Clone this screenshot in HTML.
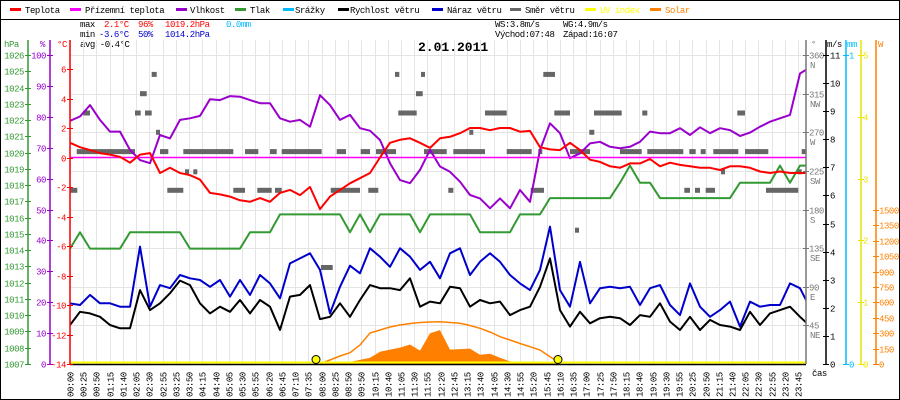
<!DOCTYPE html>
<html><head><meta charset="utf-8"><style>
html,body{margin:0;padding:0;background:#fff}
svg{display:block;font-family:"Liberation Mono",monospace}
</style></head><body>
<svg id="c" width="900" height="400" viewBox="0 0 900 400">
<rect x="0.5" y="0.5" width="899" height="399" fill="#fff" stroke="#000"/>
<line x1="0" y1="19.5" x2="900" y2="19.5" stroke="#000"/>
<g id="legend" font-size="9" letter-spacing="-0.45"></g>
<g font-size="9" letter-spacing="-0.45">
<text x="80" y="27">max</text>
<text x="104" y="27" fill="#f00">2.1°C</text>
<text x="138" y="27" fill="#f00">96%</text>
<text x="165" y="27" fill="#f00">1019.2hPa</text>
<text x="226" y="27" fill="#00bbff">0.0mm</text>
<text x="80" y="37">min</text>
<text x="99" y="37" fill="#0000cc">-3.6°C</text>
<text x="138" y="37" fill="#0000cc">50%</text>
<text x="165" y="37" fill="#0000cc">1014.2hPa</text>
<text x="80" y="47">avg -0.4°C</text>
<text x="495" y="27">WS:3.8m/s</text>
<text x="563" y="27">WG:4.9m/s</text>
<text x="495" y="37">Východ:07:48</text>
<text x="563" y="37">Západ:16:07</text>
</g>
<g id="grid"></g>
<text x="418" y="51" font-size="13" font-weight="bold">2.01.2011</text>
<defs><clipPath id="pc"><rect x="70" y="40" width="736" height="324"/></clipPath></defs>
<g id="plot" clip-path="url(#pc)"></g>
<g id="axes" font-size="9" letter-spacing="-0.45"></g>
</svg>
<script>
const temp=[1.0,0.7,0.5,0.3,0.2,0.05,-0.35,0.2,0.3,-1.05,-0.7,-1.05,-1.2,-1.5,-2.4,-2.5,-2.65,-2.9,-3.0,-2.75,-3.0,-2.4,-2.2,-2.55,-2.0,-3.5,-2.65,-2.2,-1.75,-1.4,-1.05,0,1.0,1.2,1.3,1.0,0.65,1.3,1.4,1.65,2.0,2.0,1.85,2.0,2.0,1.75,1.8,0.7,0.55,0.5,1.0,0.5,-0.15,-0.3,-0.6,-0.7,-0.4,-0.4,-0.1,-0.6,-0.35,-0.5,-0.6,-0.7,-0.7,-0.85,-0.6,-0.6,-0.7,-0.95,-1.05,-0.95,-1.05,-1.05,-1.05];
const apparentTemp=[0,0];
const humidity=[78.7,80.1,83.8,79,75.2,75.2,69.3,66,65,74.1,73,79,79.5,80.3,85.7,85.4,86.7,86.5,85.4,84.4,84.4,79.5,78.4,79,76.8,87,83.8,79,80.6,76.3,75.5,72.5,65,59.5,58.5,62.8,69.3,63.9,62.2,59,54.7,53.6,50.4,53.6,50.4,56.3,52.5,69.3,77.9,74.7,66.6,68.2,71.4,71.9,70.3,69.8,70.3,71.9,75.2,74.7,74.7,76.3,74.1,76.6,74.7,76.3,75.7,73.8,74.9,76.8,78.4,79.5,80.6,94,96];
const pressure=[1014.1,1015.1,1014.1,1014.1,1014.1,1014.1,1015.1,1015.1,1015.1,1015.1,1015.1,1015.1,1014.1,1014.1,1014.1,1014.1,1014.1,1014.1,1015.1,1015.1,1015.1,1016.2,1016.2,1016.2,1016.2,1016.2,1016.2,1016.2,1015.1,1016.2,1015.1,1016.2,1016.2,1016.2,1016.2,1015.1,1016.2,1016.2,1016.2,1016.2,1016.2,1015.1,1015.1,1015.1,1015.1,1016.2,1016.2,1016.2,1017.2,1017.2,1017.2,1017.2,1017.2,1017.2,1017.2,1018.15,1019.2,1018.15,1018.15,1017.2,1017.2,1017.2,1017.2,1017.2,1017.2,1017.2,1017.2,1018.15,1018.15,1018.15,1018.15,1019.2,1018.15,1019.2,1019.2];
const windSpeed=[1.39,1.86,1.80,1.68,1.39,1.27,1.27,2.63,1.92,2.16,2.52,2.97,2.81,2.16,1.80,2.04,1.86,2.28,1.80,2.28,2.04,1.21,2.40,2.46,2.81,1.6,1.68,2.16,1.68,2.28,2.81,2.70,2.70,2.63,3.05,2.04,2.22,2.16,2.75,2.70,2.04,2.28,2.16,2.22,1.74,1.92,2.04,2.75,3.76,1.92,1.33,1.86,1.45,1.63,1.68,1.63,1.39,1.74,1.68,2.16,1.51,1.21,1.68,1.21,1.57,1.39,1.33,1.21,1.86,1.39,1.80,1.92,2.04,1.68,1.35];
const windGust=[2.16,2.10,2.46,2.16,2.16,2.04,2.04,4.18,2.04,2.81,2.70,3.17,3.05,2.99,2.75,2.99,2.40,2.99,2.46,3.17,2.87,2.34,3.58,3.76,3.94,3.35,1.80,2.75,3.5,3.23,4.12,3.82,3.46,4.12,3.82,3.35,3.64,3.05,3.94,4.12,3.17,3.64,3.94,3.64,3.17,2.87,2.63,3.35,4.89,2.63,2.04,3.64,2.16,2.70,2.75,2.70,2.75,2.10,2.70,2.81,2.10,1.74,2.87,2.04,1.68,1.92,2.22,1.33,2.22,2.04,2.10,2.10,2.87,2.70,2.0];
const uvIndex=[0,0];
const solarStart=25;
const solarMax=[0,39,78,110,185,302,331,360,380,394,404,409,412,404,396,375,348,312,266,234,200,168,136,71,10];
const solarMeasured=[0,5,10,20,40,60,120,140,160,190,130,300,330,140,145,150,90,100,60,25,20,20,15,5,0];
const dirFrom=[0.67,9,11.33,17.5,20,21.17,26.67,29.07,30.6,35.4,37,38.33,43.67,46.83,50,55,57.73,61.93,63.07,64.33,67.5,73.17,0,9.73,16.33,18.73,20.5,26.07,29.83,37.83,46.07,61.43,62.5,63.57,69.6,11.5,12.33,65.1,72.77,8.6,39.93,51.93,1.33,6.5,7.5,32.83,41.5,48.43,52.4,57.23,66.73,7,34.6,8.17,32.5,35.1,47.33,25.1,50.5];
const dirTo=[6.5,9.83,16.33,18.83,20.67,25.17,27.6,30,32.6,37,37.67,41.5,46.17,47.17,52,57.17,61.33,62.57,63.57,66.83,69.83,73.5,0.73,11.33,17.5,20.17,21.17,29,30.83,38.33,47.4,62,63,64.5,72.83,11.83,12.67,65.43,73.1,8.93,40.27,52.43,2,7.07,8.17,34.67,43.67,50,55.17,57.73,67.5,7.67,35.27,8.67,32.93,35.5,48.5,26.27,50.83];
const dirDeg=[247.5,247.5,247.5,247.5,247.5,247.5,247.5,247.5,247.5,247.5,247.5,247.5,247.5,247.5,247.5,247.5,247.5,247.5,247.5,247.5,247.5,247.5,202.5,202.5,202.5,202.5,202.5,202.5,202.5,202.5,202.5,202.5,202.5,202.5,202.5,224,224,224,224,270,270,270,292.5,292.5,292.5,292.5,292.5,292.5,292.5,292.5,292.5,315,315,337.5,337.5,337.5,337.5,112.5,156];
const timeLabels=["00:00","00:25","00:50","01:15","01:40","02:05","02:30","02:55","03:25","03:50","04:15","04:40","05:05","05:30","05:55","06:20","06:45","07:10","07:35","08:00","08:25","08:50","09:50","10:15","10:40","11:05","11:30","11:55","12:20","12:45","13:15","13:40","14:05","14:30","14:55","15:20","15:45","16:10","16:35","17:00","17:25","17:50","18:15","18:40","19:05","19:30","19:55","20:25","20:50","21:15","21:40","22:05","22:30","22:55","23:20","23:45"];
const hpaTicks=[1007,1008,1009,1010,1011,1012,1013,1014,1015,1016,1017,1018,1019,1020,1021,1022,1023,1024,1025,1026];
const humTicks=[0,10,20,30,40,50,60,70,80,90,100];
const tempTicks=[-14,-12,-10,-8,-6,-4,-2,0,2,4,6];
const degTicks=[45,90,135,180,225,270,315,360];
const degNames=["NE","E","SE","S","SW","W","NW","N"];
const msTicks=[0,1,2,3,4,5,6,7,8,9,10,11];
const uvTicks=[0,1,2,3,4,5];
const wTicks=[0,150,300,450,600,750,900,1050,1200,1350,1500];

const NS="http://www.w3.org/2000/svg";
const B=364;
const xs=i=>70+i*10;
const yT=t=>157.5-t*14.75;
const yH=h=>B-h*3.09;
const yP=p=>B-(p-1007)*16.26;
const yW=w=>B-w*28.09;
const yD=d=>B-d*0.858;
const yS=s=>B-s*0.1027;
const yU=u=>B-u*61.8;
function mk(tag,attrs,parent){const e=document.createElementNS(NS,tag);for(const k in attrs)e.setAttribute(k,attrs[k]);parent.appendChild(e);return e;}
const grid=document.getElementById('grid'),plot=document.getElementById('plot'),axes=document.getElementById('axes'),legend=document.getElementById('legend');

// legend
const legItems=[["Teplota","#f00",10,25],["Přízemní teplota","#f0f",70,85],["Vlhkost","#9900cc",176,190],["Tlak","#339933",235,250],["Srážky","#00bbff",283,295],["Rychlost větru","#000",338,350],["Náraz větru","#0000cc",432,447],["Směr větru","#666",510,525],["UV index","#ffff00",585,600],["Solar","#ff8000",650,665]];
legItems.forEach(l=>{
  const r=mk('rect',{x:l[2],y:8,width:11,height:3,fill:l[1]},legend);
  
  
  const t=mk('text',{x:l[3],y:13,fill:(l[0]==="UV index"||l[0]==="Solar")?l[1]:"#000"},legend);
  t.textContent=l[0];
  
  
});

// grid
timeLabels.forEach((lb,k)=>{
  const x=Math.round(70+k*13.24)+0.5;
  const g=mk('line',{x1:x,y1:40,x2:x,y2:B,stroke:"#e4e4e4"},grid);
  
  
  const t=mk('text',{transform:`translate(${x+3},397) rotate(-90)`,'font-size':9,'letter-spacing':'-0.45'},axes);
  t.textContent=lb;
  
  
});
degTicks.forEach(d=>{
  const y=Math.round(yD(d))+0.5;
  const g=mk('line',{x1:70,y1:y,x2:806,y2:y,stroke:"#e4e4e4"},grid);
  
  
});

// series helpers
function line(arr,yf,color,w,name){
  const d=arr.map((v,i)=>(i?'L':'M')+xs(i)+','+yf(v).toFixed(1)).join('');
  const p=mk('path',{d:d,fill:'none',stroke:color,'stroke-width':w,'stroke-linejoin':'round'},plot);
  
  
}
// solar
{
  let d='M'+xs(solarStart)+','+B;
  solarMeasured.forEach((v,k)=>{d+='L'+xs(solarStart+k)+','+yS(v).toFixed(1);});
  d+='L'+xs(solarStart+solarMeasured.length-1)+','+B+'Z';
  const p=mk('path',{d:d,fill:'#ff8000'},plot);
  
  
  const d2=solarMax.map((v,k)=>(k?'L':'M')+xs(solarStart+k)+','+yS(v).toFixed(1)).join('');
  const p2=mk('path',{d:d2,fill:'none',stroke:'#ff8000','stroke-width':1.5},plot);
  
  
}
// wind direction
dirDeg.forEach((d,k)=>{
  const x1=xs(dirFrom[k]),x2=xs(dirTo[k]);
  const r=mk('rect',{x:x1.toFixed(1),y:(yD(d)-2.5).toFixed(1),width:Math.max(4,x2-x1).toFixed(1),height:5,fill:'#666'},plot);
  
  
});
line(pressure,yP,'#339933',2,'pressure-line');
line(humidity,yH,'#9900cc',2,'humidity-line');
{
  const p=mk('line',{x1:70,x2:806,y1:yT(apparentTemp[0]),y2:yT(apparentTemp[1]),stroke:'#ff00ff','stroke-width':1.5},plot);
  
  
}
line(temp,yT,'#ff0000',2,'temperature-line');
line(windGust,yW,'#0000cc',2,'wind-gust-line');
line(windSpeed,yW,'#000',2,'wind-speed-line');
{
  const u=mk('line',{x1:70,x2:806,y1:yU(uvIndex[0])-1.5,y2:yU(uvIndex[1])-1.5,stroke:'#ffff00','stroke-width':2},plot);
  
  
}
[[316,'sunrise-marker'],[558,'sunset-marker']].forEach(s=>{
  const c=mk('circle',{cx:s[0],cy:359.5,r:4,fill:'#ffff00',stroke:'#000','stroke-width':1},document.getElementById('c'));
  
  
});
{
  const b=mk('line',{x1:70,x2:806,y1:B+0.5,y2:B+0.5,stroke:'#000','stroke-width':1.5},axes);
  
  
  const t=mk('text',{x:812,y:376},axes);t.textContent='čas';
  
  
}
// axes
function axis(x,color,ticks,yf,labelX,anchor,unit,unitX,name,fmt){
  const l=mk('line',{x1:x,y1:40,x2:x,y2:B,stroke:color,'stroke-width':1.5},axes);
  
  
  const u=mk('text',{x:unitX,y:47,fill:color},axes);u.textContent=unit;
  
  
  ticks.forEach((v,k)=>{
    const y=Math.round(yf(v))+0.5;
    const tk=mk('line',{x1:x-3,x2:x+3,y1:y,y2:y,stroke:color},axes);
    
    
    const t=mk('text',{x:labelX,y:y+3,fill:color,'text-anchor':anchor},axes);
    t.textContent=fmt?fmt(v,k):v;
    
    
  });
}
axis(28,'#339933',hpaTicks,yP,24,'end','hPa',4,'pressure-axis');
axis(50,'#9900cc',humTicks,yH,46,'end','%',40,'humidity-axis');
axis(70,'#f00',tempTicks,yT,66,'end','°C',57,'temp-axis');
axis(806,'#777',degTicks,yD,809,'start','°',811,'direction-axis');
degTicks.forEach((d,k)=>{
  const t=mk('text',{x:810,y:Math.round(yD(d))+13,fill:'#777'},axes);
  t.textContent=degNames[k];
  
  
});
axis(826,'#000',msTicks,yW,830,'start','m/s',827,'wind-axis');
axis(846,'#00bbff',[0,1],v=>B-v*309,849,'start','mm',847,'rain-axis');
axis(861,'#e6e600',uvTicks,yU,863,'start','',862,'uv-axis');
axis(876,'#ff8000',wTicks,yS,879,'start','W',878,'solar-axis');
</script>
</body></html>
